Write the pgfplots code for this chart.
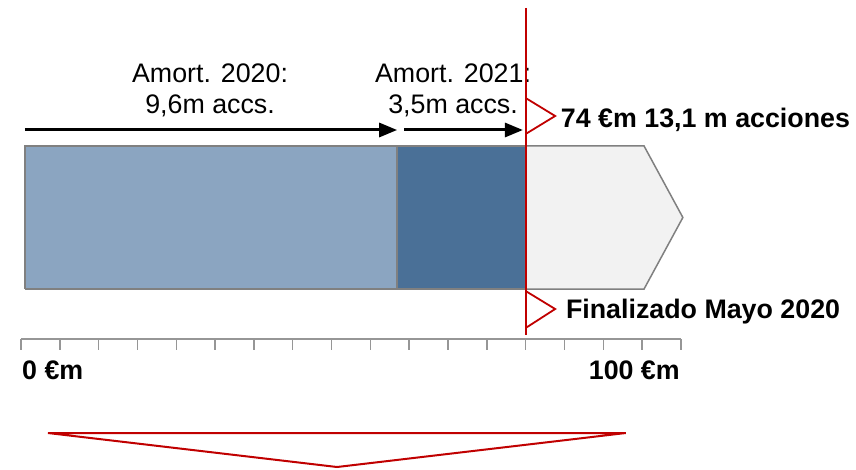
\documentclass[border=0pt]{standalone}
\usepackage{fontspec}
\setmainfont{Liberation Sans}
\usepackage{pgfplots}
\pgfplotsset{compat=1.18}
\usetikzlibrary{arrows.meta}
\definecolor{lblue}{RGB}{139,165,193}
\definecolor{dblue}{RGB}{74,112,151}
\definecolor{lgray}{RGB}{242,242,242}
\definecolor{bord}{RGB}{128,128,128}
\definecolor{tickgray}{RGB}{150,150,150}
\definecolor{myred}{RGB}{192,0,0}
\begin{document}
\begin{tikzpicture}
\begin{axis}[scale only axis, width=428pt, height=234.5pt,
  xmin=-0.541, xmax=21.51, ymin=0, ymax=469,
  hide axis, clip=false, no markers]
\path (rel axis cs:0,0) rectangle (rel axis cs:1,1);
% bars
\addplot[fill=lblue, draw=bord, line width=0.75pt, line join=miter] coordinates {(0.1,180)(9.69,180)(9.69,323)(0.1,323)(0.1,180)};
\addplot[fill=dblue, draw=bord, line width=0.75pt, line join=miter] coordinates {(9.69,180)(13,180)(13,323)(9.69,323)(9.69,180)};
\addplot[fill=lgray, draw=bord, line width=0.75pt, line join=miter] coordinates {(13,180)(16.05,180)(17.05,251.5)(16.05,323)(13,323)(13,180)};
% scale axis
\draw[tickgray, line width=0.75pt] (axis cs:0,130) -- (axis cs:17,130);
\pgfplotsinvokeforeach{0,...,17}{\draw[tickgray, line width=0.75pt] (axis cs:#1,130) -- (axis cs:#1,119);}
\node[anchor=west, font=\fontsize{13.4}{15.5}\selectfont\bfseries, inner sep=0pt] at (axis cs:0.02,99) {0 €m};
\node[anchor=east, font=\fontsize{13.4}{15.5}\selectfont\bfseries, inner sep=0pt] at (axis cs:16.98,99) {100 €m};
% arrows
\draw[line width=1.5pt, -{Triangle[length=9pt,width=7pt]}] (axis cs:0.1,339) -- (axis cs:9.69,339);
\draw[line width=1.5pt, -{Triangle[length=9pt,width=7pt]}] (axis cs:9.87,339) -- (axis cs:12.93,339);
\node[align=center, font=\fontsize{13.4}{15.5}\selectfont, inner sep=0pt] at (axis cs:4.87,379) {Amort. 2020:\\9,6m accs.};
\node[align=center, font=\fontsize{13.4}{15.5}\selectfont, inner sep=0pt] at (axis cs:11.13,379) {Amort. 2021:\\3,5m accs.};
% red line and markers
\draw[myred, line width=1pt] (axis cs:13,461) -- (axis cs:13,134);
\draw[myred, line width=0.9pt, line join=miter] (axis cs:13,371) -- (axis cs:13.76,353) -- (axis cs:13,335);
\draw[myred, line width=0.9pt, line join=miter] (axis cs:13,178) -- (axis cs:13.76,160) -- (axis cs:13,141);
\node[anchor=west, font=\fontsize{13.4}{15.5}\selectfont\bfseries, inner sep=0pt] at (axis cs:13.9,349) {74 €m 13,1 m acciones};
\node[anchor=west, font=\fontsize{13.4}{15.5}\selectfont\bfseries, inner sep=0pt] at (axis cs:14.03,157) {Finalizado Mayo 2020};
% bottom triangle
\draw[myred, line width=1pt, line join=miter] (axis cs:0.696,36) -- (axis cs:15.58,36) -- (axis cs:8.14,2) -- cycle;
\end{axis}
\end{tikzpicture}
\end{document}
